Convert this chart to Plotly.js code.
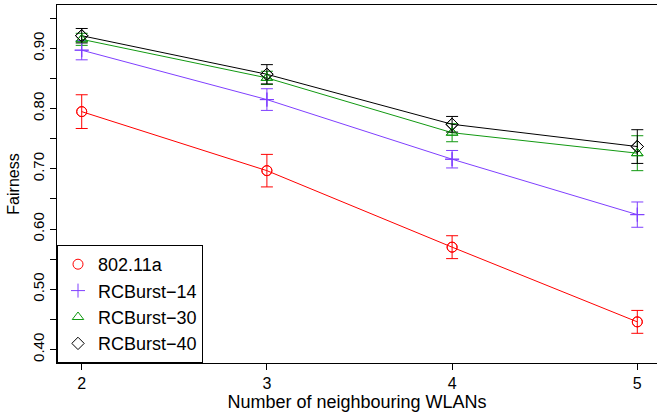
<!DOCTYPE html>
<html>
<head>
<meta charset="utf-8">
<script src="https://cdn.plot.ly/plotly-3.0.1.min.js"></script>
<style>html,body{margin:0;padding:0;overflow:hidden;background:#fff}</style>
</head>
<body>
<div id="chart" style="width:657px;height:415px"></div>
<script>
// Data
const neighbours = [2, 3, 4, 5];
const seriesNames = ["802.11a", "RCBurst\u221214", "RCBurst\u221230", "RCBurst\u221240"];
const fair80211a = [0.795, 0.697, 0.570, 0.446];
const err80211a  = [0.028, 0.027, 0.019, 0.019];
const fairRC14   = [0.897, 0.815, 0.716, 0.624];
const errRC14    = [0.016, 0.018, 0.0145, 0.021];
const fairRC30   = [0.915, 0.851, 0.760, 0.726];
const errRC30    = [0.010, 0.011, 0.015, 0.029];
const fairRC40   = [0.921, 0.857, 0.774, 0.737];
const errRC40    = [0.012, 0.016, 0.013, 0.028];
const yTickVals  = [0.40, 0.45, 0.50, 0.55, 0.60, 0.65, 0.70, 0.75, 0.80, 0.85, 0.90, 0.95];
const yTickText  = ["0.40", "", "0.50", "", "0.60", "", "0.70", "", "0.80", "", "0.90", ""];

const colors = ["#ff0000", "#7f3fff", "#119911", "#000000"];
const symbols = ["circle-open", "cross-thin-open", "triangle-up-open", "diamond-open"];
const sizes = [10, 10, 10, 9.5];
const ys = [fair80211a, fairRC14, fairRC30, fairRC40];
const errs = [err80211a, errRC14, errRC30, errRC40];

const FONT = "Liberation Sans, Arial, Helvetica, sans-serif";
const traces = [];
for (let i = 0; i < 4; i++) {
  traces.push({
    x: neighbours, y: ys[i], type: "scatter", mode: "lines+markers",
    showlegend: false, hoverinfo: "skip",
    line: {color: colors[i], width: 1},
    marker: {symbol: symbols[i], size: sizes[i], color: colors[i], line: {color: colors[i], width: 1}},
    error_y: {type: "data", array: errs[i], visible: true, color: colors[i], thickness: 1, width: 6}
  });
}
for (let i = 0; i < 4; i++) {
  traces.push({
    x: neighbours, y: ys[i], type: "scatter", mode: "markers", name: seriesNames[i],
    showlegend: true, hoverinfo: "skip",
    marker: {symbol: symbols[i], size: sizes[i], color: colors[i], line: {color: colors[i], width: 1}}
  });
}

const layout = {
  width: 657, height: 415,
  margin: {l: 57, r: 0, t: 5, b: 52},
  paper_bgcolor: "#fff", plot_bgcolor: "#fff",
  font: {family: FONT, size: 16, color: "#000"},
  xaxis: {
    range: [1.8666, 5.1064], tickvals: neighbours, ticktext: neighbours.map(String),
    showgrid: false, zeroline: false, showline: true, linecolor: "#000", linewidth: 1, mirror: true,
    ticks: "outside", ticklen: 6, tickcolor: "#000", tickfont: {size: 16},
    title: {text: "Number of neighbouring WLANs", font: {size: 18}, standoff: 4}
  },
  yaxis: {
    range: [0.3777, 0.972], tickvals: yTickVals, ticktext: yTickText, tickangle: -90,
    showgrid: false, zeroline: false, showline: true, linecolor: "#000", linewidth: 1,
    ticks: "outside", ticklen: 6, tickcolor: "#000", tickfont: {size: 15},
    title: {text: "Fairness", font: {size: 16}, standoff: 6}
  },
  legend: {
    x: 0, y: 0, xanchor: "left", yanchor: "bottom",
    bordercolor: "#000", borderwidth: 1, bgcolor: "#fff",
    font: {family: FONT, size: 18}, itemwidth: 30, tracegroupgap: 0
  }
};
Plotly.newPlot("chart", traces, layout, {staticPlot: true});
</script>
</body>
</html>
